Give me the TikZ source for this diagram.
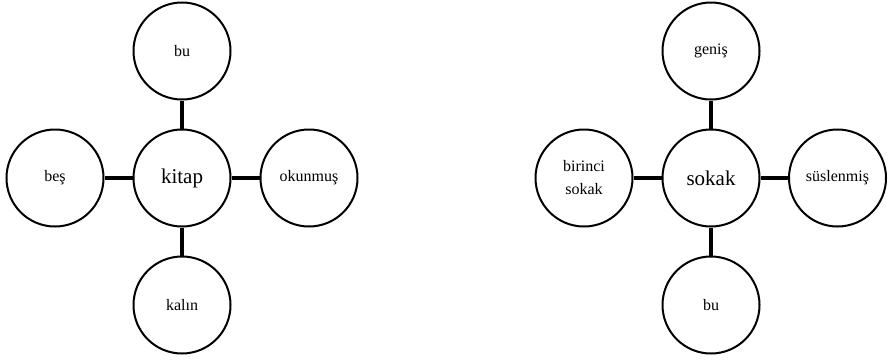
\documentclass[tikz,border=0pt]{standalone}
\usepackage{fontspec}
\setmainfont{Liberation Serif}
\tikzset{
  leaf/.style={circle, draw, line width=2pt, minimum size=97pt, inner sep=0pt, align=center,
    font=\fontsize{16}{23}\selectfont},
  hub/.style={leaf, font=\fontsize{21}{25}\selectfont},
  link/.style={line width=3.2pt}
}
\begin{document}
\begin{tikzpicture}[x=1pt,y=-1pt]
\useasboundingbox (0,0) rectangle (890,362);
% left diagram
\node[hub]  (kitap) at (182,178) {kitap};
\node[leaf] (bu1)   at (182,51)  {bu};
\node[leaf] (kalin) at (182,305) {kalın};
\node[leaf] (bes)   at (55,178)  {beş};
\node[leaf] (okun)  at (309,178) {okunmuş};
\draw[link] (kitap) -- (bu1);
\draw[link] (kitap) -- (kalin);
\draw[link] (kitap) -- (bes);
\draw[link] (kitap) -- (okun);
% right diagram
\node[hub]  (sokak) at (711,178) {sokak};
\node[leaf] (genis) at (711,51)  {geniş};
\node[leaf] (bu2)   at (711,305) {bu};
\node[leaf] (birin) at (584,178) {birinci\\sokak};
\node[leaf] (susl)  at (837.5,178) {süslenmiş};
\draw[link] (sokak) -- (genis);
\draw[link] (sokak) -- (bu2);
\draw[link] (sokak) -- (birin);
\draw[link] (sokak) -- (susl);
\end{tikzpicture}
\end{document}
